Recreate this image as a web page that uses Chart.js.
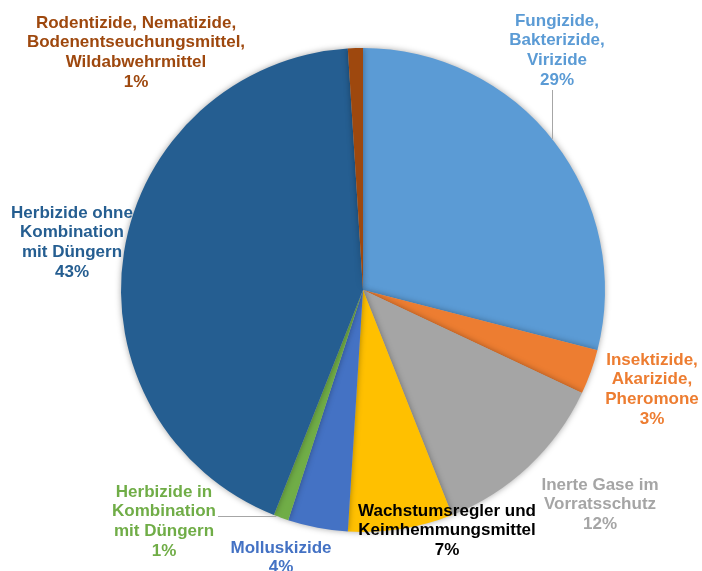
<!DOCTYPE html>
<html>

<head>
    <title>Pflanzenschutzmittel</title>
    <script src="https://cdn.jsdelivr.net/npm/chart.js"></script>
    <style>
        body {
            margin: 0;
            background: #fff;
        }

        #pie {
            display: block;
        }
    </style>
</head>

<body>
    <canvas id="pie" width="702" height="571"></canvas>

    <script>
        // Daten
        const categories = [
            'Fungizide, Bakterizide, Virizide',
            'Insektizide, Akarizide, Pheromone',
            'Inerte Gase im Vorratsschutz',
            'Wachstumsregler und Keimhemmungsmittel',
            'Molluskizide',
            'Herbizide in Kombination mit Düngern',
            'Herbizide ohne Kombination mit Düngern',
            'Rodentizide, Nematizide, Bodenentseuchungsmittel, Wildabwehrmittel'
        ];
        const shares = [29, 3, 12, 7, 4, 1, 43, 1];
        const labelLines = [
            ['Fungizide,', 'Bakterizide,', 'Virizide'],
            ['Insektizide,', 'Akarizide,', 'Pheromone'],
            ['Inerte Gase im', 'Vorratsschutz'],
            ['Wachstumsregler und', 'Keimhemmungsmittel'],
            ['Molluskizide'],
            ['Herbizide in', 'Kombination', 'mit Düngern'],
            ['Herbizide ohne', 'Kombination', 'mit Düngern'],
            ['Rodentizide, Nematizide,', 'Bodenentseuchungsmittel,', 'Wildabwehrmittel']
        ];
        const sliceColors = ['#5B9BD5', '#ED7D31', '#A5A5A5', '#FFC000', '#4472C4', '#70AD47', '#255E91', '#9E480E'];
        const textColors = ['#5B9BD5', '#ED7D31', '#A5A5A5', '#000000', '#4472C4', '#70AD47', '#255E91', '#9E480E'];

        // Position der Beschriftungen (Mitte der ersten Zeile)
        const labelAnchors = [
            [557, 21], [652, 360], [600, 485], [447, 511],
            [281, 548], [164, 492], [72, 213], [136, 23]
        ];
        // Führungslinien: Startpunkt + Richtung bis zum Kreisrand
        const leaders = [
            { i: 0, x: 552, y: 90, dir: 'down' },
            { i: 5, x: 218, y: 516, dir: 'right' }
        ];

        const lineHeight = 19.7;

        const shadowPlugin = {
            id: 'shadow',
            beforeDatasetDraw(chart) {
                const ctx = chart.ctx;
                ctx.save();
                ctx.shadowColor = 'rgba(0,0,0,0.35)';
                ctx.shadowBlur = 6;
            },
            afterDatasetDraw(chart) {
                chart.ctx.restore();
            }
        };

        const labelPlugin = {
            id: 'sliceLabels',
            afterDraw(chart) {
                const ctx = chart.ctx;
                const arc = chart.getDatasetMeta(0).data[0];
                const cx = arc.x, cy = arc.y, r = arc.outerRadius;

                ctx.save();
                ctx.strokeStyle = '#A6A6A6';
                ctx.lineWidth = 1;
                leaders.forEach(l => {
                    ctx.beginPath();
                    if (l.dir === 'down') {
                        const yEdge = cy - Math.sqrt(r * r - (l.x - cx) * (l.x - cx));
                        ctx.moveTo(l.x + 0.5, l.y);
                        ctx.lineTo(l.x + 0.5, yEdge);
                    } else {
                        const xEdge = cx - Math.sqrt(r * r - (l.y - cy) * (l.y - cy));
                        ctx.moveTo(l.x, l.y + 0.5);
                        ctx.lineTo(xEdge, l.y + 0.5);
                    }
                    ctx.stroke();
                });

                ctx.font = 'bold 17px "Liberation Sans", Arial, sans-serif';
                ctx.textAlign = 'center';
                ctx.textBaseline = 'middle';
                shares.forEach((v, i) => {
                    const lines = labelLines[i].concat([v + '%']);
                    ctx.fillStyle = textColors[i];
                    lines.forEach((t, k) => {
                        ctx.fillText(t, labelAnchors[i][0], labelAnchors[i][1] + k * lineHeight);
                    });
                });
                ctx.restore();
            }
        };

        const ctx = document.getElementById('pie').getContext('2d');
        new Chart(ctx, {
            type: 'pie',
            data: {
                labels: categories,
                datasets: [{
                    data: shares,
                    backgroundColor: sliceColors,
                    borderWidth: 0
                }]
            },
            options: {
                responsive: false,
                animation: false,
                layout: {
                    padding: { top: 48, bottom: 39, left: 121, right: 97 }
                },
                plugins: {
                    legend: { display: false },
                    tooltip: { enabled: false }
                }
            },
            plugins: [shadowPlugin, labelPlugin]
        });
    </script>
</body>

</html>
